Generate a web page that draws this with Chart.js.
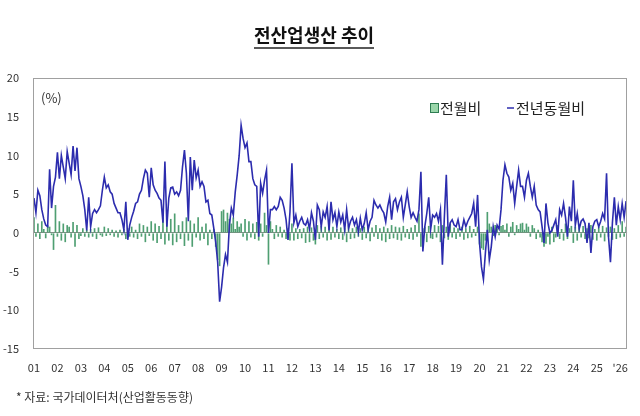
<!DOCTYPE html>
<html>
<head>
<meta charset="utf-8">
<script src="https://cdn.jsdelivr.net/npm/chart.js@4.4.1/dist/chart.umd.min.js"></script>
<style>
    html, body { margin: 0; padding: 0; background: #ffffff; }
    #wrap { width: 640px; height: 416px; }
</style>
</head>
<body>
<div id="wrap"><canvas id="prodChart" width="640" height="416"></canvas></div>
<script>
const chartTitle = "전산업생산 추이";
const footNote = "* 자료: 국가데이터처(산업활동동향)";
const unitText = "(%)";
const firstYear = 2001;
const yearLabels = ["01", "02", "03", "04", "05", "06", "07", "08", "09", "10", "11", "12", "13",
    "14", "15", "16", "17", "18", "19", "20", "21", "22", "23", "24", "25", "'26"];
const yTicks = [-15, -10, -5, 0, 5, 10, 15, 20];

// 전월비 (month on month, %)
const momChange = [
    2.0, -0.5, 1.2, -0.8, 1.5, 0.5, -0.7, 1.0, 0.8, -0.3, -2.2, 3.6,     // 2001
    -0.5, 1.5, -1.0, 1.2, -1.2, 1.0, 0.8, -0.6, 1.4, -1.8, 1.0, -0.8,    // 2002
    -0.4, 0.6, -0.5, 0.4, -0.6, 0.5, -0.5, 0.6, -0.8, 0.7, -0.3, -0.5,   // 2003
    0.8, -0.4, 0.6, -0.3, 0.4, -0.5, 0.3, -0.6, 0.4, -0.3, 0.5, -0.8,    // 2004
    0.6, -0.5, 0.8, -0.6, 0.4, -0.8, 1.2, -0.5, 1.0, -1.2, 0.8, -0.4,    // 2005
    1.5, -1.0, 1.2, -1.3, 0.9, -0.8, 2.0, -1.5, 1.4, -1.0, 1.8, -1.6,    // 2006
    2.5, -1.2, 1.0, -0.8, 1.5, -1.7, 2.0, -1.0, 1.6, -1.8, 1.2, -0.6,    // 2007
    2.0, -1.0, 0.8, -0.8, 1.2, -1.6, 0.4, -0.8, 0.5, -1.8, -3.5, -4.3,   // 2008
    2.8, 3.0, 1.5, 2.6, 1.8, 1.2, 2.0, 0.5, 1.5, 0.8, 1.2, -0.5,         // 2009
    1.8, -1.0, 1.5, -0.6, 1.2, -0.8, 1.4, -1.0, 1.2, -0.5, 2.6, 1.0,     // 2010
    -4.1, 1.5, 0.5, -0.8, 1.0, -0.5, 0.8, -0.6, 0.4, -0.8, 0.6, -1.0,    // 2011
    1.2, -1.0, 0.6, -0.8, 0.5, -0.7, 0.6, -1.3, 0.8, -1.2, 0.7, -1.0,    // 2012
    -1.5, 1.0, -0.8, 0.9, -0.6, 0.8, -1.0, 0.7, -0.9, 0.8, -0.6, 0.5,    // 2013
    -0.8, 0.7, -0.9, 0.6, -1.2, 1.0, -0.8, 0.6, -0.7, 0.8, -0.5, 0.6,    // 2014
    -0.9, 0.8, -0.7, 0.9, -1.1, 0.7, -0.5, 1.0, -0.8, 0.6, -1.0, 0.8,    // 2015
    -1.2, 0.6, -0.8, 1.0, -0.7, 0.8, -0.9, 0.7, -1.0, 0.9, -0.6, 0.5,    // 2016
    -0.8, 0.7, -0.9, 1.0, -0.5, 2.5, -1.8, 0.6, 0.8, -1.2, 0.9, -0.7,    // 2017
    -0.8, 1.0, -0.6, 0.9, -1.2, 1.0, -0.7, 0.8, -0.9, 1.2, -0.6, 0.7,    // 2018
    -0.8, 0.6, -0.5, 0.8, -0.9, 0.6, -0.7, 0.9, -0.6, 0.5, -0.4, 0.8,    // 2019
    -1.5, -2.0, -2.2, -1.0, 2.7, 1.2, 0.8, -0.4, 1.0, 0.6, -0.3, 0.9,    // 2020
    1.0, 0.4, 1.2, -0.5, 0.8, 1.4, -0.3, 1.0, 0.5, 1.2, 1.3, 0.4,        // 2021
    1.2, 0.8, -0.5, 1.0, 0.6, -0.8, 0.4, -0.6, -1.2, -1.8, -1.4, -0.5,   // 2022
    -1.5, 0.8, -1.2, -0.6, 1.0, -0.8, 0.5, -1.0, 1.2, -0.8, 0.6, 0.9,    // 2023
    -1.3, 0.8, -1.0, 0.7, -0.6, 0.9, -0.8, 0.6, -0.7, 1.0, -0.9, 0.5,    // 2024
    -1.0, 0.8, -0.6, 0.9, -1.1, 0.7, -0.5, 0.8, -0.9, 0.6, -0.8, 1.0,    // 2025
    -0.6, 1.5, -0.5, 0.8                                                 // 2026
];

// 전년동월비 (same month of previous year, %)
const yoyChange = [
    4.5, 2.6, 5.5, 4.8, 3.0, 1.8, 1.0, 0.8, 8.2, 3.2, 6.0, 7.2,          // 2001
    10.4, 7.0, 10.0, 8.5, 7.0, 10.5, 9.0, 7.5, 11.2, 8.0, 11.0, 7.0,     // 2002
    6.0, 4.8, 3.0, 0.3, 4.6, 0.8, 2.5, 3.0, 2.6, 3.0, 3.5, 5.5,          // 2003
    7.2, 5.8, 6.2, 5.3, 5.0, 3.8, 3.2, 2.6, 2.6, 1.7, 0.4, 4.0,          // 2004
    -0.9, 1.0, 2.0, 2.8, 3.8, 4.0, 5.0, 5.5, 7.0, 8.1, 7.7, 4.6,         // 2005
    8.4, 6.2, 5.5, 5.1, 4.5, 4.2, 1.3, 9.2, 0.8, 4.5, 5.8, 5.9,          // 2006
    5.0, 5.3, 4.8, 5.5, 8.5, 10.7, 7.7, 1.5, 9.8, 5.5, 9.4, 7.1,         // 2007
    8.1, 6.0, 6.6, 6.0, 4.0, 4.2, 2.5, 2.3, 0.6, -1.2, -3.8, -8.9,       // 2008
    -7.0, -4.5, -2.8, -3.8, 1.0, 3.2, 2.3, 5.3, 7.5, 10.0, 13.9, 12.2,   // 2009
    11.0, 11.6, 9.2, 9.2, 7.0, 6.2, 6.0, -0.5, 6.4, 5.1, 6.8, 8.1,       // 2010
    0.0, 3.0, 3.0, 3.4, 3.0, 3.4, 4.6, 4.2, 3.2, 1.7, -0.9, 2.7,         // 2011
    9.0, 1.3, 2.3, 0.8, 1.5, 2.0, 1.2, 1.0, 1.7, 0.5, 2.6, 1.5,          // 2012
    -0.9, 3.6, 3.0, 0.8, 2.7, 2.0, 3.4, 0.3, 4.0, 1.7, 2.6, 0.8,         // 2013
    2.7, 1.4, 2.3, 0.4, 3.0, 0.6, 1.5, 2.0, 1.0, 1.7, 0.1, 1.9,          // 2014
    0.4, 1.2, 2.6, 0.4, 1.5, 2.0, 4.2, 3.6, 3.2, 3.6, 3.0, 2.6,          // 2015
    1.4, 3.4, 4.6, 1.7, 4.0, 4.4, 3.0, 4.0, 4.6, 2.0, 3.6, 5.3,          // 2016
    3.4, 2.0, 2.6, 2.0, 1.5, 3.0, 7.9, -2.4, 0.8, 2.5, 4.6, 0.5,         // 2017
    2.3, 2.0, 2.5, 1.5, 3.0, -4.1, 2.0, 7.5, -0.5, 1.3, 1.7, 1.0,        // 2018
    0.8, 1.7, 0.4, 0.4, 1.7, 0.8, 1.5, 2.0, 2.5, 3.8, 0.8, 4.9,          // 2019
    -1.3, -4.4, -6.0, -2.6, 0.4, -3.5, -1.8, 0.8, -0.5, 1.0, 0.5, 3.0,   // 2020
    6.8, 8.8, 7.7, 7.2, 5.5, 6.4, 3.8, 6.0, 8.1, 6.0, 6.0, 4.6,          // 2021
    6.8, 7.7, 6.0, 4.6, 6.0, 3.6, 3.0, 2.7, 0.8, -1.3, 3.8, 1.3,         // 2022
    0.0, 0.3, 1.0, 1.7, -0.5, 3.0, 2.3, 3.8, 2.0, -0.5, 3.4, 1.5,        // 2023
    6.8, 1.0, 2.5, 0.5, 1.5, 1.8, 1.2, -1.3, 1.3, -2.6, 0.8, 1.5,        // 2024
    1.7, 0.8, 1.5, 2.5, 1.8, 7.7, -0.5, -3.8, 1.3, 4.6, 1.0, 3.4,        // 2025
    1.7, 3.8, 2.0, 4.1                                                   // 2026
];

const monthLabels = yoyChange.map((v, i) => {
    const year = firstYear + Math.floor(i / 12);
    return year + "." + String(i % 12 + 1).padStart(2, "0");
});

Chart.defaults.font.family = '"Noto Sans CJK KR", "Noto Sans", sans-serif';
Chart.defaults.color = "#333333";

const decor = {
    id: "decor",
    afterDraw(chart) {
        const ctx = chart.ctx;
        const a = chart.chartArea;
        ctx.save();

        // plot frame
        ctx.strokeStyle = "#a0a0a0";
        ctx.lineWidth = 1;
        ctx.strokeRect(Math.round(a.left) + 0.5, Math.round(a.top) + 0.5,
            Math.round(a.width) - 1, Math.round(a.height) - 1);

        // unit
        ctx.fillStyle = "#333333";
        ctx.textBaseline = "middle";
        ctx.textAlign = "left";
        ctx.font = '13px "Noto Sans CJK KR"';
        ctx.fillText(unitText, a.left + 8, a.top + 20);

        // legend
        const bar = chart.data.datasets[1];
        const line = chart.data.datasets[0];
        const ly = a.top + 30;
        ctx.font = '15px "Noto Sans CJK KR"';
        ctx.fillStyle = "#9ad6aa";
        ctx.fillRect(430.5, ly - 4.5, 8, 9);
        ctx.strokeStyle = bar.borderColor;
        ctx.lineWidth = 1;
        ctx.strokeRect(430.5, ly - 4.5, 8, 9);
        ctx.fillStyle = "#222222";
        ctx.fillText(bar.label, 440, ly);
        ctx.strokeStyle = line.borderColor;
        ctx.lineWidth = 1.5;
        ctx.beginPath();
        ctx.moveTo(507, ly);
        ctx.lineTo(514, ly);
        ctx.stroke();
        ctx.fillText(line.label, 516, ly);

        // title underline
        const t = chart.titleBlock;
        ctx.font = 'bold 18px "Noto Sans CJK KR"';
        const w = ctx.measureText(chartTitle).width;
        const cx = (t.left + t.right) / 2;
        ctx.strokeStyle = "#222222";
        ctx.lineWidth = 1.5;
        ctx.beginPath();
        ctx.moveTo(cx - w / 2, 48);
        ctx.lineTo(cx + w / 2, 48);
        ctx.stroke();

        // source note
        ctx.font = '12px "Noto Sans CJK KR"';
        ctx.fillStyle = "#333333";
        ctx.fillText(footNote, 16, 397);

        ctx.restore();
    }
};

new Chart(document.getElementById("prodChart"), {
    type: "bar",
    data: {
        labels: monthLabels,
        datasets: [
            {
                type: "line",
                label: "전년동월비",
                data: yoyChange,
                borderColor: "#2c2cae",
                borderWidth: 1.6,
                pointRadius: 0,
                tension: 0,
                order: 0
            },
            {
                type: "bar",
                label: "전월비",
                data: momChange,
                backgroundColor: "#4f9f72",
                borderColor: "#2e7d52",
                borderWidth: 0,
                barPercentage: 1,
                categoryPercentage: 0.85,
                order: 1
            }
        ]
    },
    options: {
        responsive: false,
        animation: false,
        layout: {
            padding: { left: 0, right: 12, top: 0, bottom: 44 }
        },
        plugins: {
            legend: { display: false },
            tooltip: { enabled: false },
            title: {
                display: true,
                text: chartTitle,
                color: "#111111",
                font: { size: 18, weight: "bold" },
                padding: { top: 24, bottom: 32.4 }
            }
        },
        scales: {
            x: {
                grid: { display: false, drawTicks: false },
                border: { display: false },
                ticks: {
                    autoSkip: false,
                    maxRotation: 0,
                    padding: 12,
                    font: { size: 11 },
                    color: "#333333",
                    callback: (value, index) => index % 12 === 0 ? yearLabels[index / 12] : null
                },
                afterFit: scale => { scale.height = 23; }
            },
            y: {
                min: yTicks[0],
                max: yTicks[yTicks.length - 1],
                afterBuildTicks: scale => { scale.ticks = yTicks.map(v => ({ value: v })); },
                grid: {
                    drawTicks: false,
                    color: ctx => ctx.tick && ctx.tick.value === 0 ? "#7d8f84" : "rgba(0,0,0,0)",
                    lineWidth: 1
                },
                border: { display: false },
                ticks: {
                    padding: 14,
                    font: { size: 11 },
                    color: "#333333"
                },
                afterFit: scale => { scale.width = 33; }
            }
        }
    },
    plugins: [decor]
});
</script>
</body>
</html>
